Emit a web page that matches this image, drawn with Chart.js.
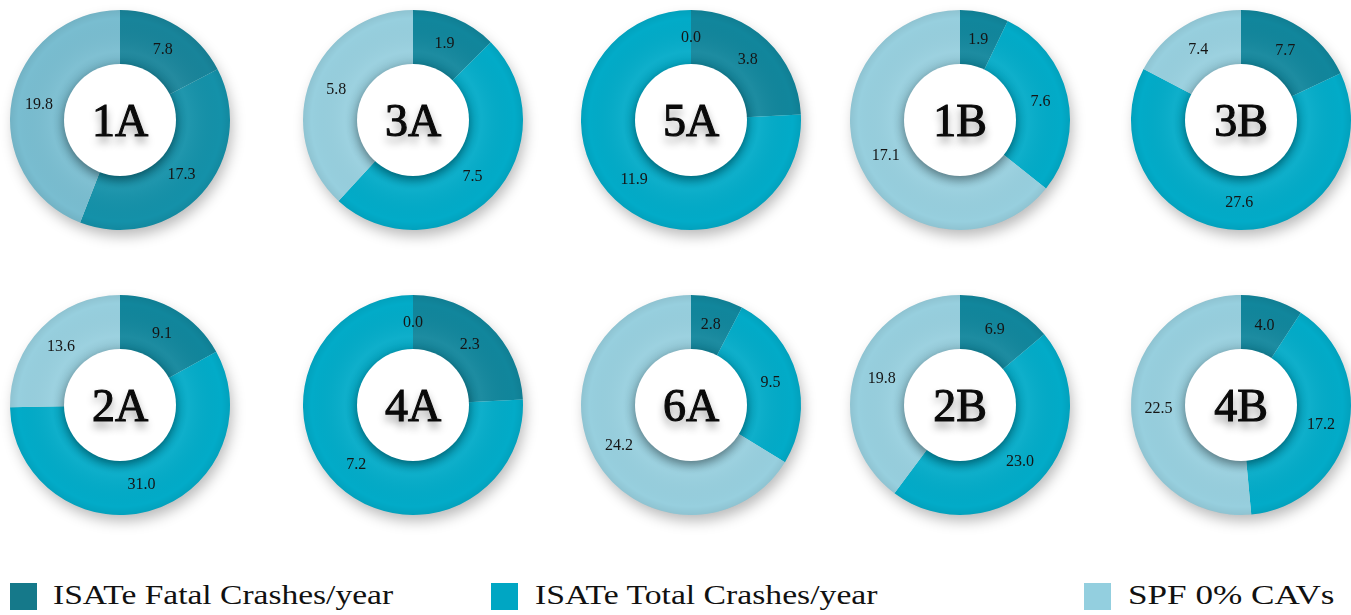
<!DOCTYPE html>
<html>
<head>
<meta charset="utf-8">
<script src="https://cdn.jsdelivr.net/npm/chart.js@4"></script>
<style>
    html, body { margin: 0; padding: 0; background: #fff; }
    body { width: 1351px; height: 615px; position: relative; overflow: hidden; font-family: "Liberation Serif", serif; }
    canvas.donut { position: absolute; }
    .legend-box { position: absolute; top: 583px; width: 27px; height: 27px; }
    .legend-text { position: absolute; top: 582px; font-size: 27px; line-height: 27px; color: #111; white-space: nowrap; transform-origin: left top; }
</style>
</head>
<body>

<div class="legend-box" style="left:10px; background:#15798a;"></div>
<div class="legend-text" style="left:53px;" data-w="340">ISATe Fatal Crashes/year</div>
<div class="legend-box" style="left:491px; background:#00a6c3;"></div>
<div class="legend-text" style="left:535px;" data-w="343">ISATe Total Crashes/year</div>
<div class="legend-box" style="left:1084px; background:#93cfdf;"></div>
<div class="legend-text" style="left:1128px;" data-w="207">SPF 0% CAVs</div>

<script>
// === DATOS ===
const scenarios = ['1A', '3A', '5A', '1B', '3B', '2A', '4A', '6A', '2B', '4B'];
const seriesLabels = ['ISATe Fatal Crashes/year', 'ISATe Total Crashes/year', 'SPF 0% CAVs'];
const fatalCrashes = [7.8, 1.9, 3.8, 1.9, 7.7, 9.1, 2.3, 2.8, 6.9, 4.0];
const totalCrashes = [17.3, 7.5, 11.9, 7.6, 27.6, 31.0, 7.2, 9.5, 23.0, 17.2];
const spfZeroCav = [19.8, 5.8, 0.0, 17.1, 7.4, 13.6, 0.0, 24.2, 19.8, 22.5];

// === LAYOUT ===
const colX = [120, 413, 691, 960, 1241];
const rowY = [120, 405];
const SIZE = 260;
const palette = ['#11869c', '#02abc8', '#97cfde'];
const palette1A = ['#18849a', '#1491a9', '#79bdd0'];

// === PLUGIN: sombra, disco central y etiquetas ===
const donutDecor = {
    id: 'donutDecor',
    beforeDatasetsDraw(chart) {
        const arc = chart.getDatasetMeta(0).data[0];
        const ctx = chart.ctx;
        ctx.save();
        ctx.shadowColor = 'rgba(0,0,0,0.28)';
        ctx.shadowBlur = 14;
        ctx.shadowOffsetX = 3;
        ctx.shadowOffsetY = 7;
        ctx.beginPath();
        ctx.arc(arc.x, arc.y, arc.outerRadius - 1, 0, Math.PI * 2);
        ctx.fillStyle = '#ddd';
        ctx.fill();
        ctx.restore();
    },
    afterDatasetsDraw(chart, args, opts) {
        const meta = chart.getDatasetMeta(0);
        const arc = meta.data[0];
        const ctx = chart.ctx;

        // ring shading
        const grad = ctx.createRadialGradient(arc.x, arc.y, arc.innerRadius, arc.x, arc.y, arc.outerRadius);
        grad.addColorStop(0, 'rgba(0,0,0,0.08)');
        grad.addColorStop(0.25, 'rgba(255,255,255,0.05)');
        grad.addColorStop(0.85, 'rgba(0,0,0,0)');
        grad.addColorStop(1, 'rgba(0,0,0,0.06)');
        ctx.save();
        ctx.beginPath();
        ctx.arc(arc.x, arc.y, arc.outerRadius, 0, Math.PI * 2);
        ctx.arc(arc.x, arc.y, arc.innerRadius, 0, Math.PI * 2, true);
        ctx.fillStyle = grad;
        ctx.fill();
        ctx.restore();

        // white centre disc
        ctx.save();
        ctx.shadowColor = 'rgba(0,0,0,0.35)';
        ctx.shadowBlur = 10;
        ctx.shadowOffsetY = 4;
        ctx.beginPath();
        ctx.arc(arc.x, arc.y, arc.innerRadius + 1, 0, Math.PI * 2);
        ctx.fillStyle = '#fff';
        ctx.fill();
        ctx.restore();

        // value labels
        ctx.save();
        ctx.font = '16px "Liberation Serif", serif';
        ctx.fillStyle = '#151515';
        ctx.textAlign = 'center';
        ctx.textBaseline = 'middle';
        meta.data.forEach((el, i) => {
            const p = el.getCenterPoint();
            const v = chart.data.datasets[0].data[i];
            ctx.fillText(v.toFixed(1), p.x, p.y);
        });
        ctx.restore();

        // scenario name
        ctx.save();
        ctx.font = '46px "Liberation Serif", serif';
        ctx.textAlign = 'center';
        ctx.textBaseline = 'alphabetic';
        ctx.shadowColor = 'rgba(0,0,0,0.45)';
        ctx.shadowBlur = 8;
        ctx.shadowOffsetY = 6;
        ctx.fillStyle = '#0a0a0a';
        ctx.strokeStyle = '#0a0a0a';
        ctx.lineWidth = 1.1;
        ctx.fillText(opts.name, arc.x, arc.y + 16);
        ctx.shadowColor = 'transparent';
        ctx.strokeText(opts.name, arc.x, arc.y + 16);
        ctx.restore();
    }
};

// === DONAS ===
scenarios.forEach((name, i) => {
    const canvas = document.createElement('canvas');
    canvas.className = 'donut';
    canvas.width = SIZE;
    canvas.height = SIZE;
    canvas.style.left = (colX[i % 5] - SIZE / 2) + 'px';
    canvas.style.top = (rowY[Math.floor(i / 5)] - SIZE / 2) + 'px';
    document.body.appendChild(canvas);

    new Chart(canvas.getContext('2d'), {
        type: 'doughnut',
        data: {
            labels: seriesLabels,
            datasets: [{
                data: [fatalCrashes[i], totalCrashes[i], spfZeroCav[i]],
                backgroundColor: name === '1A' ? palette1A : palette,
                borderWidth: 0
            }]
        },
        options: {
            responsive: false,
            animation: false,
            events: [],
            cutout: '50%',
            layout: { padding: 20 },
            plugins: {
                legend: { display: false },
                tooltip: { enabled: false },
                donutDecor: { name: name }
            }
        },
        plugins: [donutDecor]
    });
});

// === LEYENDA: ajustar ancho ===
document.querySelectorAll('.legend-text').forEach(el => {
    const k = parseFloat(el.dataset.w) / el.offsetWidth;
    el.style.transform = 'scaleX(' + k.toFixed(3) + ')';
});
</script>
</body>
</html>
